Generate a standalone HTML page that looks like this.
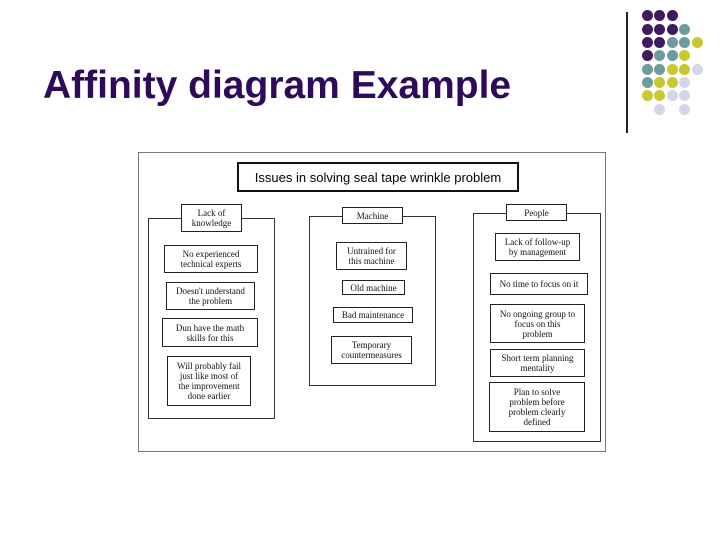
<!DOCTYPE html>
<html><head><style>
body{margin:0;width:720px;height:540px;background:#fff;position:relative;overflow:hidden}
.a{position:absolute;box-sizing:border-box}
.t{font-family:"Liberation Serif",serif;font-size:9px;line-height:10px;color:#111;display:flex;align-items:center;justify-content:center;text-align:center;border:1px solid #222;background:#fff}
.c{border:1px solid #333}
.d{position:absolute;width:11px;height:11px;border-radius:50%}
</style></head><body>
<div class="a" style="left:43px;top:63px;font-family:'Liberation Sans',sans-serif;font-weight:bold;font-size:39px;line-height:45px;color:#2e0a5a;white-space:nowrap">Affinity diagram Example</div>
<div class="a" style="left:626px;top:12px;width:2px;height:121px;background:#222"></div>
<div class="a c" style="left:138px;top:152px;width:468px;height:300px;border-color:#777"></div>
<div class="a" style="left:237px;top:162px;width:282px;height:30px;border:2px solid #111;font-family:'Liberation Sans',sans-serif;font-size:13px;display:flex;align-items:center;justify-content:center;background:#fff">Issues in solving seal tape wrinkle problem</div>
<div class="a c" style="left:148px;top:218px;width:127px;height:201px"></div>
<div class="a c" style="left:309px;top:216px;width:127px;height:170px"></div>
<div class="a c" style="left:473px;top:213px;width:128px;height:229px"></div>
<div class="a t" style="left:181px;top:204px;width:61px;height:28px">Lack of<br>knowledge</div>
<div class="a t" style="left:342px;top:207px;width:61px;height:17px">Machine</div>
<div class="a t" style="left:506px;top:204px;width:61px;height:17px">People</div>
<div class="a t" style="left:164px;top:245px;width:94px;height:28px">No experienced<br>technical experts</div>
<div class="a t" style="left:166px;top:282px;width:89px;height:28px">Doesn't understand<br>the problem</div>
<div class="a t" style="left:162px;top:318px;width:96px;height:29px">Dun have the math<br>skills for this</div>
<div class="a t" style="left:167px;top:356px;width:84px;height:50px">Will probably fail<br>just like most of<br>the improvement<br>done earlier</div>
<div class="a t" style="left:336px;top:242px;width:71px;height:28px">Untrained for<br>this machine</div>
<div class="a t" style="left:342px;top:280px;width:63px;height:15px">Old machine</div>
<div class="a t" style="left:333px;top:307px;width:80px;height:16px">Bad maintenance</div>
<div class="a t" style="left:331px;top:336px;width:81px;height:28px">Temporary<br>countermeasures</div>
<div class="a t" style="left:495px;top:233px;width:85px;height:28px">Lack of follow-up<br>by management</div>
<div class="a t" style="left:490px;top:273px;width:98px;height:22px">No time to focus on it</div>
<div class="a t" style="left:490px;top:304px;width:95px;height:39px">No ongoing group to<br>focus on this<br>problem</div>
<div class="a t" style="left:490px;top:349px;width:95px;height:28px">Short term planning<br>mentality</div>
<div class="a t" style="left:489px;top:382px;width:96px;height:50px">Plan to solve<br>problem before<br>problem clearly<br>defined</div>
<div id="dots"></div>
<script>
var P='#3f1a5e',T='#6e9c9c',Y='#c8c832',L='#d4d6e8';
var rows=[[P,P,P],[P,P,P,T],[P,P,T,T,Y],[P,T,T,Y],[T,T,Y,Y,L],[T,Y,Y,L],[Y,Y,L,L],[null,L,null,L]];
var xs=[647,659.5,672,684.5,697],ys=[15.5,29,42.3,55.7,69,82.3,95.7,109],h='';
rows.forEach(function(r,i){r.forEach(function(c,j){if(c)h+='<div class="d" style="left:'+(xs[j]-5.5)+'px;top:'+(ys[i]-5.5)+'px;background:'+c+'"></div>';});});
document.getElementById('dots').innerHTML=h;
</script>
</body></html>
